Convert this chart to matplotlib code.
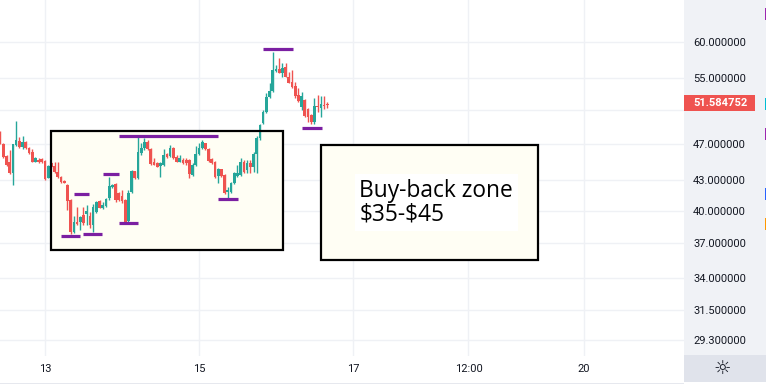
import numpy as np
import matplotlib.pyplot as plt
from matplotlib.patches import Rectangle
from matplotlib.ticker import FixedLocator, NullLocator

# hourly bars, hour 0 = day 13 00:00
hours = np.arange(-14, 89)

opens = [48.24, 46.91, 45.60, 44.99, 43.75, 46.83, 47.28, 46.64, 47.20, 46.46,
         46.08, 44.99, 45.17, 45.25, 45.10, 43.29, 44.81, 44.55, 43.85, 43.39,
         42.95, 42.53, 41.02, 37.98, 38.93, 38.93, 39.57, 39.67, 39.47, 38.63,
         39.89, 40.92, 40.20, 40.46, 41.19, 42.30, 42.60, 41.69, 41.45, 41.02,
         39.00, 41.85, 43.98, 43.22, 45.90, 46.46, 47.17, 46.35, 44.99, 44.81,
         44.52, 44.63, 45.82, 45.64, 46.46, 45.53, 44.99, 45.17, 45.17, 45.17,
         43.57, 44.63, 45.82, 46.46, 47.02, 46.35, 45.25, 44.99, 43.47, 44.16,
         43.57, 41.82, 41.85, 42.71, 43.47, 43.57, 44.99, 44.09, 44.81, 44.45,
         45.79, 47.59, 49.34, 50.73, 52.60, 53.36, 55.96, 56.18, 55.65, 56.54,
         55.17, 54.51, 53.97, 52.82, 51.35, 52.18, 51.06, 50.33, 49.52, 51.44,
         51.15, 51.59, 51.68]
highs = [48.43, 47.05, 45.71, 46.27, 46.94, 49.61, 47.74, 47.85, 47.28, 46.60,
         46.38, 45.49, 45.42, 45.39, 45.17, 44.63, 44.95, 44.99, 44.99, 43.47,
         43.05, 42.63, 41.12, 39.47, 40.36, 39.47, 40.36, 40.53, 39.89, 40.60,
         40.92, 41.02, 40.79, 41.22, 43.39, 42.63, 42.74, 41.85, 42.02, 41.09,
         42.02, 44.09, 44.04, 47.78, 47.02, 47.59, 47.39, 46.49, 45.36, 44.99,
         44.99, 46.35, 45.93, 46.83, 46.60, 45.71, 45.71, 45.39, 45.36, 45.25,
         44.84, 46.72, 47.02, 47.39, 47.09, 46.46, 45.39, 45.10, 44.30, 44.23,
         43.67, 42.36, 42.84, 43.88, 44.63, 45.36, 45.17, 45.17, 45.17, 46.08,
         47.85, 49.26, 51.00, 53.03, 54.32, 58.62, 56.77, 57.77, 57.00, 57.00,
         55.86, 56.09, 54.51, 53.67, 53.23, 52.31, 51.19, 50.45, 52.43, 52.82,
         52.69, 52.69, 51.97]
lows = [46.94, 45.39, 44.52, 43.67, 42.53, 46.72, 46.49, 46.38, 46.38, 45.82,
        44.95, 44.95, 44.81, 44.84, 43.05, 43.26, 44.36, 43.83, 43.22, 42.79,
        42.69, 40.05, 37.85, 37.89, 38.63, 38.16, 38.63, 38.63, 38.38, 38.00,
        39.73, 40.20, 40.12, 40.38, 41.02, 42.23, 40.85, 40.95, 40.70, 38.84,
        38.93, 41.75, 43.15, 43.15, 45.71, 46.27, 46.27, 44.58, 44.58, 44.38,
        43.39, 44.52, 45.39, 45.53, 45.28, 44.91, 44.95, 44.79, 44.63, 43.29,
        43.47, 44.52, 45.71, 46.35, 46.27, 44.99, 44.74, 43.29, 42.77, 43.39,
        41.59, 41.19, 41.69, 42.63, 43.36, 43.47, 43.83, 43.75, 43.75, 43.91,
        43.77, 47.39, 49.23, 50.63, 52.50, 53.25, 55.82, 55.65, 55.17, 55.14,
        54.32, 53.67, 52.44, 51.97, 50.94, 50.09, 49.52, 49.23, 49.23, 50.73,
        50.13, 51.06, 51.15]
closes = [47.02, 45.53, 44.63, 43.75, 46.91, 47.39, 46.64, 47.20, 46.46, 45.90,
          44.99, 45.36, 44.99, 44.95, 43.15, 44.52, 44.45, 43.91, 43.39, 42.87,
          42.77, 40.95, 37.98, 38.90, 38.72, 39.41, 38.79, 39.95, 38.63, 40.36,
          40.85, 40.26, 40.53, 41.12, 42.43, 42.53, 41.02, 41.02, 40.95, 38.93,
          41.75, 43.98, 43.22, 46.08, 46.53, 47.20, 46.38, 44.74, 44.63, 44.45,
          44.81, 45.71, 45.49, 46.46, 45.36, 44.99, 45.42, 44.88, 44.81, 43.64,
          44.63, 45.82, 46.53, 47.13, 46.35, 45.10, 44.81, 43.39, 44.16, 43.50,
          41.69, 41.99, 42.77, 43.75, 43.81, 44.99, 43.91, 44.81, 44.38, 45.79,
          47.59, 49.14, 50.73, 52.60, 53.36, 56.09, 56.18, 55.72, 56.32, 55.17,
          54.40, 53.88, 52.69, 52.06, 52.69, 50.21, 50.13, 49.52, 51.47, 51.27,
          51.64, 51.44, 51.584752]
last_price = 51.584752

tick_hours = [0, 48, 96, 132, 168]
tick_labels = ["13", "15", "17", "12:00", "20"]
price_ticks = [60, 55, 51, 47, 43, 40, 37, 34, 31.5, 29.3]
hidden_tick = 51  # its label sits under the last-price marker

# purple horizontal levels (start hour, end hour, price)
level_start = [5.0, 11.9, 9.0, 18.0, 23.0, 23.0, 54.0, 68.0, 80.1]
level_end = [10.9, 17.9, 13.8, 23.0, 28.9, 54.0, 60.1, 77.2, 86.3]
level_price = [37.59, 37.77, 41.59, 43.64, 38.79, 47.85, 41.09, 59.00, 48.75]

# rectangles drawn on the chart
zone_start = [1.8, 85.9]
zone_end = [74.3, 153.8]
zone_low = [36.38, 35.51]
zone_high = [48.47, 46.83]
note = "Buy-back zone\n$35-$45"

UP = "#26a69a"
DOWN = "#ef5350"
TXT = "#131722"
W, H = 766, 386

fig = plt.figure(figsize=(W / 100, H / 100), dpi=100)
fig.patch.set_facecolor("white")
ax = fig.add_axes([0, 30 / H, 684 / W, 356 / H])

# price scale panel and settings button
fig.add_artist(Rectangle((684 / W, 31 / H), 82 / W, 355 / H, transform=fig.transFigure,
                         facecolor="#f0f2f6", edgecolor="none", zorder=-2))
fig.add_artist(Rectangle((684 / W, 4 / H), 82 / W, 27 / H, transform=fig.transFigure,
                         facecolor="#e0e3eb", edgecolor="none", zorder=-2))
fig.add_artist(Rectangle((0, 2 / H), 684 / W, 1.5 / H, transform=fig.transFigure,
                         facecolor="#e6e8ee", edgecolor="none", zorder=-2))
fig.text(721.7 / W, 18 / H, "\u263c", ha="center", va="center", fontsize=14,
         color=TXT, family="DejaVu Sans")

o = np.array(opens)
c = np.array(closes)
cols = [UP if cc >= oo else DOWN for oo, cc in zip(o, c)]

for s, e, lo, hi in zip(zone_start, zone_end, zone_low, zone_high):
    ax.add_patch(Rectangle((s, lo), e - s, hi - lo, facecolor="#fffef4",
                           edgecolor="none", zorder=1))

ax.vlines(hours, lows, highs, colors=cols, linewidth=1.0, zorder=2)
ax.bar(hours, np.abs(c - o), bottom=np.minimum(o, c), width=0.85, color=cols,
       linewidth=0, zorder=3)

for s, e, lo, hi in zip(zone_start, zone_end, zone_low, zone_high):
    ax.add_patch(Rectangle((s, lo), e - s, hi - lo, facecolor="none",
                           edgecolor="black", linewidth=1.6, zorder=4))

ax.hlines(level_price, level_start, level_end, colors="#7b1fa2", linewidth=2.3,
          zorder=5)

ax.text(98.0, 43.2, note, ha="left", va="top", fontsize=16.4, family="Open Sans",
        color="black", linespacing=1.0, zorder=6, parse_math=False,
        bbox=dict(boxstyle="square,pad=0.2", facecolor="white", edgecolor="none"))

ax.set_yscale("log")
ax.set_xlim(-14.03, 199.2)
ax.set_ylim(28.19, 66.38)
ax.yaxis.set_major_locator(FixedLocator(price_ticks))
ax.yaxis.set_minor_locator(NullLocator())
ax.set_yticklabels(["" if v == hidden_tick else f"{v:.6f}" for v in price_ticks])
ax.yaxis.tick_right()
ax.set_xticks(tick_hours)
ax.set_xticklabels(tick_labels)
ax.tick_params(axis="y", length=0, pad=6.5, labelsize=8, labelcolor=TXT)
ax.tick_params(axis="x", length=0, pad=6, labelsize=8, labelcolor=TXT)
for lab in ax.get_xticklabels() + ax.get_yticklabels():
    lab.set_family("Roboto")
ax.grid(True, color="#eff1f5", linewidth=1)
ax.set_axisbelow(True)
for sp in ax.spines.values():
    sp.set_visible(False)

# last price marker on the scale
px, py = ax.transData.transform((hours[-1], last_price))
py += 2
fig.add_artist(Rectangle((684 / W, (py - 8) / H), 71 / W, 16 / H,
                         transform=fig.transFigure, facecolor=DOWN,
                         edgecolor="none", zorder=5))
fig.text(693 / W, py / H, f"{last_price:.6f}", ha="left", va="center",
         fontsize=8, color="white", fontweight="bold", family="Roboto", zorder=6)

# small colour marks at the right edge of the scale
mark_colors = ["#9c27b0", "#00bcd4", "#9c27b0", "#2962ff", "#ff9800"]
mark_top = [8, 98, 128, 188, 218]
for mc, mt in zip(mark_colors, mark_top):
    fig.add_artist(Rectangle((764.5 / W, (H - mt - 12) / H), 1.5 / W, 12 / H,
                             transform=fig.transFigure, facecolor=mc,
                             edgecolor="none", zorder=5))

fig.savefig("out.png", dpi=100)
